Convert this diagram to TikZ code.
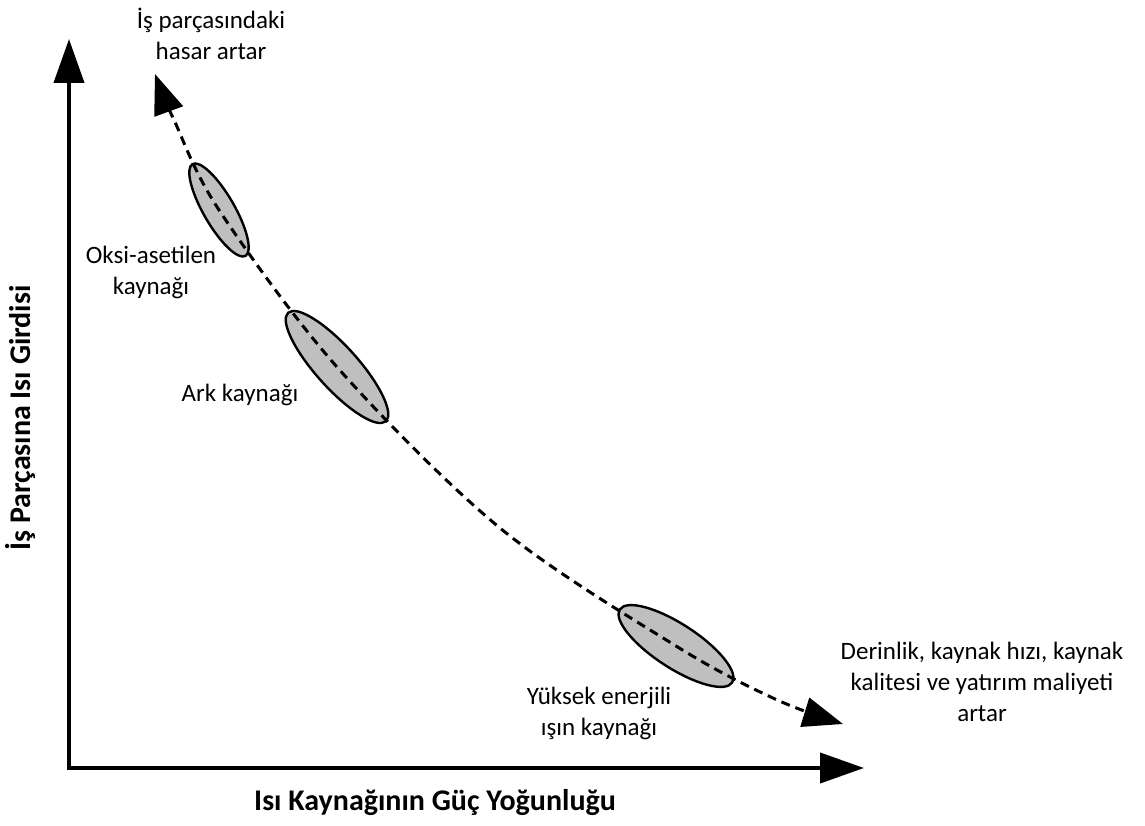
\documentclass[tikz,border=0pt]{standalone}
\usepackage{fontspec}
\setmainfont{Carlito}
\usetikzlibrary{arrows.meta,shapes.geometric}

\begin{document}
\begin{tikzpicture}[x=1pt,y=1pt,
    axis/.style={line width=4pt,line join=miter,
        {Triangle[length=44pt,width=30pt]}-{Triangle[length=44pt,width=30pt]}},
    trend/.style={line width=3pt,dash pattern=on 9pt off 6pt,
        {Triangle[length=40pt,width=30pt]}-{Triangle[length=40pt,width=30pt]}},
    zone/.style={ellipse,draw,line width=2.4pt,fill=gray!50,inner sep=0pt},
    lbl/.style={font=\fontsize{25}{31}\selectfont,align=center},
    axlbl/.style={font=\fontsize{30}{36}\selectfont\bfseries}]
    \useasboundingbox (0,0) rectangle (1145,825);
    % axes
    \coordinate (O) at (69,57);
    \coordinate (ytop) at (69,786);
    \coordinate (xend) at (864,57);
    \draw[axis] (ytop) -- (O) -- (xend);
    \node[axlbl] (xlbl) at (435,22) {Isı Kaynağının Güç Yoğunluğu};
    \node[axlbl,rotate=90] (ylbl) at (20,407) {İş Parçasına Isı Girdisi};
    % welding processes
    \node[zone,minimum width=106pt,minimum height=31pt,rotate=-60] (oksi) at (219,615) {};
    \node[zone,minimum width=146pt,minimum height=42pt,rotate=-48] (ark) at (337,458) {};
    \node[zone,minimum width=134pt,minimum height=44pt,rotate=-33] (isin) at (676,179) {};
    % trend curve
    \coordinate (hasar) at (155,751);
    \coordinate (c1) at (174,705);
    \coordinate (c2) at (500,297);
    \coordinate (c3) at (775,126);
    \coordinate (derin) at (843,101);
    \draw[trend] plot[smooth,tension=0.55] coordinates
        {(hasar) (c1) (oksi.center) (ark.center) (c2) (isin.center) (c3) (derin)};
    % labels
    \node[lbl] (hasarlbl) at (211,791) {İş parçasındaki\\hasar artar};
    \node[lbl] (oksilbl) at (151,553) {Oksi-asetilen\\kaynağı};
    \node[lbl] (arklbl) at (240,430) {Ark kaynağı};
    \node[lbl] (isinlbl) at (599,112) {Yüksek enerjili\\ışın kaynağı};
    \node[lbl] (derinlbl) at (982,143) {Derinlik, kaynak hızı, kaynak\\kalitesi ve yatırım maliyeti\\artar};
\end{tikzpicture}
\end{document}
